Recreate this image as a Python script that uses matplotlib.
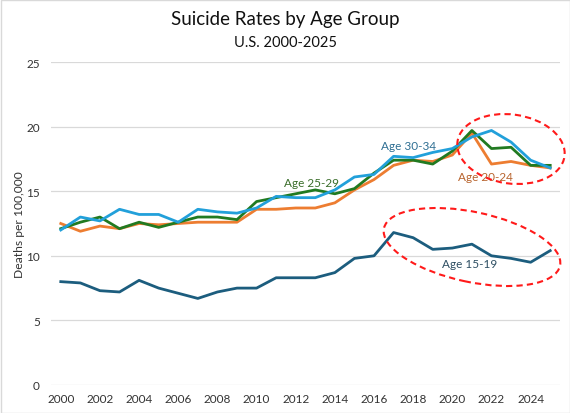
import matplotlib
matplotlib.use("Agg")
import matplotlib.pyplot as plt
from matplotlib.patches import Ellipse, Rectangle

plt.rcParams['font.family'] = ['Lato', 'DejaVu Sans']

years = list(range(2000, 2026))
age_15_19 = [8.0, 7.9, 7.3, 7.2, 8.1, 7.5, 7.1, 6.7, 7.2, 7.5, 7.5, 8.3, 8.3,
             8.3, 8.7, 9.8, 10.0, 11.8, 11.4, 10.5, 10.6, 10.9, 10.0, 9.8, 9.5, 10.4]
age_20_24 = [12.5, 11.9, 12.3, 12.1, 12.5, 12.4, 12.5, 12.6, 12.6, 12.6, 13.6, 13.6, 13.7,
             13.7, 14.1, 15.1, 15.9, 17.0, 17.4, 17.3, 17.8, 19.5, 17.1, 17.3, 17.0, 16.8]
age_25_29 = [12.1, 12.6, 13.0, 12.1, 12.6, 12.2, 12.6, 13.0, 13.0, 12.8, 14.2, 14.5, 14.8,
             15.1, 14.8, 15.2, 16.4, 17.4, 17.4, 17.1, 18.1, 19.7, 18.3, 18.4, 17.0, 17.0]
age_30_34 = [12.0, 13.0, 12.7, 13.6, 13.2, 13.2, 12.6, 13.6, 13.4, 13.3, 13.7, 14.6, 14.5,
             14.5, 15.1, 16.1, 16.3, 17.7, 17.6, 18.0, 18.3, 19.2, 19.7, 18.8, 17.4, 16.8]

xticks = list(range(2000, 2025, 2))
yticks = [0, 5, 10, 15, 20, 25]

title = "Suicide Rates by Age Group"
subtitle = "U.S. 2000-2025"
ylabel = "Deaths per 100,000"

c15 = '#1C5D7E'
c20 = '#ED7D31'
c25 = '#217A21'
c30 = '#22A0DA'

fig = plt.figure(figsize=(5.7, 4.14), dpi=100)
ax = fig.add_axes([51/570, 28/414, 509/570, 323/414])

lw = 2.0
ax.plot(years, age_15_19, color=c15, lw=lw, solid_joinstyle='round')
ax.plot(years, age_20_24, color=c20, lw=lw, solid_joinstyle='round')
ax.plot(years, age_25_29, color=c25, lw=lw, solid_joinstyle='round')
ax.plot(years, age_30_34, color=c30, lw=lw, solid_joinstyle='round')

ax.set_xlim(1999.5, 2025.5)
ax.set_ylim(0, 25)
ax.set_xticks(xticks)
ax.set_xticklabels([str(t) for t in xticks])
ax.set_yticks(yticks)
ax.grid(axis='y', color='#D9D9D9', lw=0.9)
ax.set_axisbelow(True)
for s in ax.spines.values():
    s.set_visible(False)
ax.tick_params(length=0, labelsize=8.5, colors='#333333', pad=6)
ax.tick_params(axis='y', pad=8)
ax.set_ylabel(ylabel, fontsize=8.7, color='#333333', labelpad=1)

ax.text(2012.8, 15.7, "Age 25-29", color='#3B6E2B', fontsize=8.5, ha='center', va='center')
ax.text(2017.75, 18.5, "Age 30-34", color='#2F6F93', fontsize=8.5, ha='center', va='center')
ax.text(2021.7, 16.1, "Age 20-24", color='#B8642E', fontsize=8.5, ha='center', va='center')
ax.text(2020.9, 9.4, "Age 15-19", color='#2E4F63', fontsize=8.5, ha='center', va='center')

fig.text(0.5, 1 - 20/414, title, ha='center', va='center', fontsize=13.5, color='#111111')
fig.text(0.5, 1 - 43/414, subtitle, ha='center', va='center', fontsize=10.5, color='#111111')

# dashed highlight ellipses (in inches, figure space)
e1 = Ellipse((511/100, (414-150)/100), 1.08, 0.69, angle=-8, fill=False,
             edgecolor='#FF1A1A', lw=1.5, linestyle=(0, (3, 2)),
             transform=fig.dpi_scale_trans, clip_on=False)
e2 = Ellipse((472/100, (414-248)/100), 1.80, 0.70, angle=-12, fill=False,
             edgecolor='#FF1A1A', lw=1.5, linestyle=(0, (3, 2)),
             transform=fig.dpi_scale_trans, clip_on=False)
fig.add_artist(e1)
fig.add_artist(e2)

fig.add_artist(Rectangle((0.5/570, 0.5/414), 1 - 1/570, 1 - 1/414, fill=False,
                         edgecolor='#D9D9D9', lw=1.0, transform=fig.transFigure))

fig.savefig("out.png", dpi=100)
